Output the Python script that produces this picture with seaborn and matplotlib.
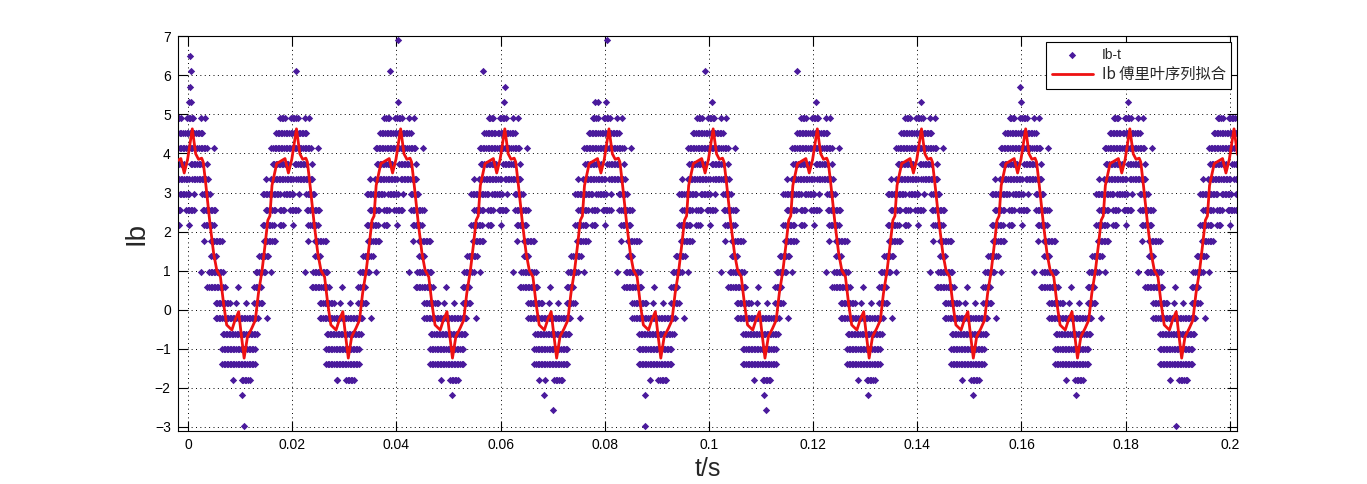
import numpy as np
import pandas as pd
import matplotlib
matplotlib.use("Agg")
import matplotlib.pyplot as plt
import seaborn as sns

# ---------------- data ----------------
x_ticks = [0, 0.02, 0.04, 0.06, 0.08, 0.1, 0.12, 0.14, 0.16, 0.18, 0.2]
x_tick_labels = ["0", "0.02", "0.04", "0.06", "0.08", "0.1", "0.12", "0.14", "0.16", "0.18", "0.2"]
y_ticks = [-3, -2, -1, 0, 1, 2, 3, 4, 5, 6, 7]

period_ms = 20.0
period_index = list(range(-1, 11))
t_min_ms, t_max_ms = -2.0, 201.4

# fitted Fourier curve, one period (phase in ms, value)
fit_phase_ms = [-2.0, -1.4, -0.75, -0.1, 0.8, 1.45, 2.0, 2.6, 2.9, 3.4, 4.2, 4.9, 5.5, 6.2, 6.8,
                7.4, 8.4, 9.0, 9.7, 10.1, 10.75, 11.4, 12.2, 12.9, 13.5, 14.2, 14.8, 15.3, 15.7,
                16.1, 17.0]
fit_value = [3.82, 3.87, 3.50, 3.85, 4.63, 3.99, 3.85, 3.88, 3.78, 3.20, 2.20, 1.44, 1.01, 0.84, 0.16,
             -0.39, -0.52, -0.27, -0.05, -0.52, -1.24, -0.69, -0.48, -0.27, 0.42, 1.01, 1.69, 2.29, 2.40,
             3.18, 3.74]

# measured samples: runs of samples at quantised levels within a period (phase ms)
sample_step_ms = 0.3
run_level = [4.92, 4.92, 4.92, 4.92,
             4.53, 4.53,
             4.13, 4.13, 4.13,
             3.74, 3.74, 3.74,
             3.34, 3.34, 3.34,
             2.95, 2.95, 2.95, 2.95,
             2.55, 2.55, 2.55, 2.55,
             2.16, 2.16, 2.16, 2.16,
             1.76, 1.76, 1.76,
             1.37, 1.37,
             0.97, 0.97, 0.97, 0.97,
             0.58, 0.58, 0.58,
             0.18, 0.18, 0.18, 0.18,
             -0.21, -0.21,
             -0.61,
             -1.00,
             -1.40,
             -1.79, -1.79]
run_start_ms = [-2.3, -0.2, 2.4, 3.3,
                -3.1, -0.6,
                -4.0, 2.4, 5.0,
                -3.8, 0.5, 3.7,
                -5.1, -4.1, 0.8,
                -5.7, -1.6, 1.2, 2.7,
                -5.1, -2.4, -0.4, 2.8,
                -5.7, -2.4, 0.1, 3.1,
                -5.4, 3.1, 4.4,
                -6.4, 4.4,
                -7.0, -4.0, 2.4, 4.0,
                -7.3, 3.7, 9.5,
                -7.3, 5.3, 9.2, 11.1,
                -4.8, 5.3,
                6.6,
                6.5,
                6.5,
                8.6, 10.3]
run_end_ms = [-1.4, 1.2, 2.5, 3.3,
              -1.0, 2.8,
              2.0, 3.6, 5.0,
              -0.6, 2.7, 3.7,
              -5.1, 0.2, 4.0,
              -2.2, 0.2, 1.2, 4.4,
              -3.2, -1.4, 1.1, 5.3,
              -3.5, -1.8, 0.1, 5.0,
              -3.2, 3.1, 6.6,
              -4.4, 5.3,
              -5.0, -4.0, 2.4, 6.9,
              -6.0, 7.2, 9.5,
              -5.7, 8.2, 9.2, 11.1,
              -4.8, 13.6,
              13.3,
              13.0,
              13.0,
              8.6, 12.0]

# isolated outlying samples (absolute time ms, value)
extra_t_ms = [0.4, 0.5, 0.3, 0.2, 0.6,
              20.7,
              38.8, 40.3, 40.3,
              56.7, 60.8, 60.6,
              78.1, 78.6, 80.2, 80.4,
              99.2, 100.5,
              116.9, 120.6,
              140.8,
              159.7, 160.0,
              179.1, 180.5,
              10.4, 10.75,
              28.5,
              50.6,
              67.4, 68.4, 70.1,
              87.7, 87.7,
              110.5, 110.9,
              130.5,
              150.6,
              170.4,
              189.6]
extra_value = [6.50, 6.11, 5.71, 5.32, 5.32,
               6.11,
               6.11, 6.90, 5.32,
               6.11, 5.71, 5.32,
               5.32, 5.32, 5.32, 6.90,
               6.11, 5.32,
               6.11, 5.32,
               5.32,
               5.71, 5.32,
               6.11, 5.32,
               -2.19, -2.98,
               -1.79,
               -2.19,
               -1.79, -2.19, -2.58,
               -2.19, -2.98,
               -2.19, -2.58,
               -2.19,
               -2.19,
               -2.19,
               -2.98]

# ---------------- build tables ----------------
pts_t, pts_v = [], []
for k in period_index:
    for lv, s, e in zip(run_level, run_start_ms, run_end_ms):
        ts = np.arange(s, e + 1e-9, sample_step_ms) + k * period_ms
        pts_t.extend(ts.tolist())
        pts_v.extend([lv] * len(ts))
pts_t.extend(extra_t_ms)
pts_v.extend(extra_value)
scatter_df = pd.DataFrame({"t": np.array(pts_t) / 1000.0, "Ib": pts_v})
scatter_df = scatter_df[(scatter_df.t >= t_min_ms / 1000) & (scatter_df.t <= t_max_ms / 1000)]

fit_t, fit_v = [], []
for k in period_index:
    for p, v in zip(fit_phase_ms, fit_value):
        fit_t.append(p + k * period_ms)
        fit_v.append(v)
fit_df = pd.DataFrame({"t": np.array(fit_t) / 1000.0, "Ib": fit_v})
fit_df = fit_df[(fit_df.t >= t_min_ms / 1000 - 1e-9) & (fit_df.t <= t_max_ms / 1000 + 0.001)]
fit_df = fit_df.sort_values("t")

# ---------------- plot ----------------
sns.set_style("ticks")
plt.rcParams["font.family"] = ["Liberation Sans", "Noto Sans CJK SC", "DejaVu Sans"]

fig = plt.figure(figsize=(13.67, 4.84), dpi=100)
ax = fig.add_axes([0.13, 0.11, 0.775, 0.815])

sns.scatterplot(data=scatter_df, x="t", y="Ib", ax=ax, marker="D", s=14,
                color="#4a1a9c", linewidth=0, label="Ib-t", zorder=2)
sns.lineplot(data=fit_df, x="t", y="Ib", ax=ax, color="#ee1111", linewidth=2.0,
             estimator=None, sort=True, label="Ib 傅里叶序列拟合", zorder=3)

ax.set_xlim(t_min_ms / 1000, t_max_ms / 1000)
ax.set_ylim(-3.1, 7)
ax.set_xticks(x_ticks)
ax.set_xticklabels(x_tick_labels)
ax.set_yticks(y_ticks)
ax.tick_params(direction="in", length=7.5, width=0.8, top=True, right=True,
               labelsize=10, colors="black", pad=5)
for sp in ax.spines.values():
    sp.set_visible(True)
    sp.set_color("black")
    sp.set_linewidth(0.8)
ax.grid(True, color="black", linestyle=(0, (1, 3.5)), linewidth=0.7)
ax.set_axisbelow(True)

ax.set_xlabel("t/s", fontsize=18, labelpad=4)
ax.set_ylabel("Ib", fontsize=20, labelpad=4)

leg = ax.legend(loc="upper right", bbox_to_anchor=(1 - 6 / 1059, 1 - 6 / 395), borderaxespad=0,
                fancybox=False, framealpha=1, edgecolor="black", fontsize=10,
                handlelength=3.0, handletextpad=0.6, borderpad=0.4, labelspacing=0.3)
leg.get_frame().set_linewidth(0.8)
texts = leg.get_texts()
texts[0].set_fontsize(10)
texts[1].set_fontsize(11)
texts[1].set_family(["Noto Sans CJK SC", "Liberation Sans"])

fig.savefig("out.png", dpi=100, facecolor="white")
